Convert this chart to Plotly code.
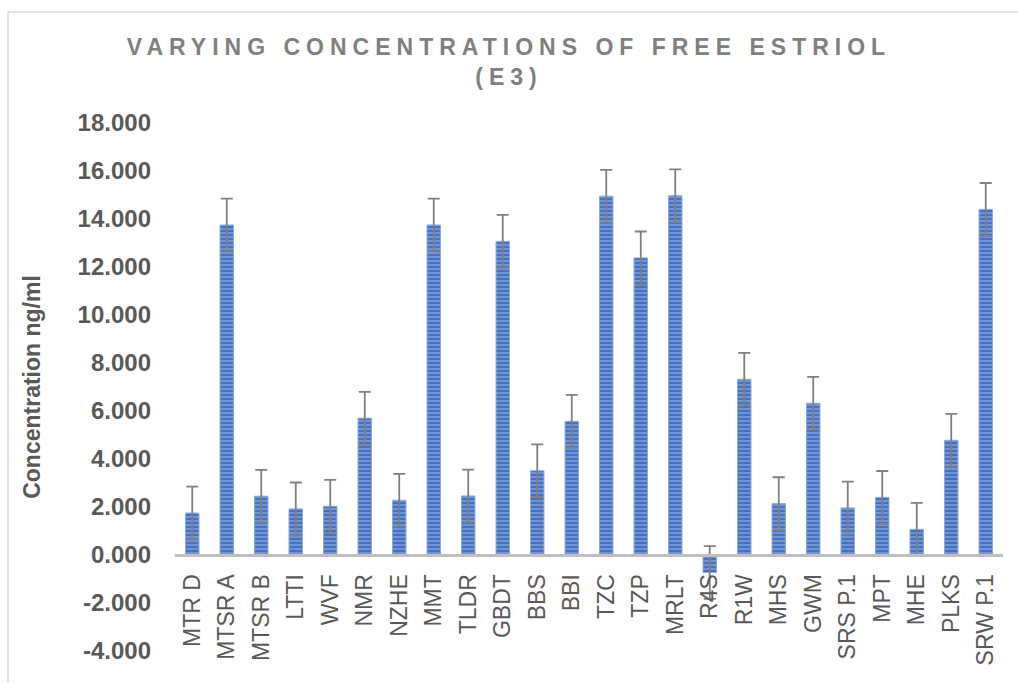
import plotly.graph_objects as go

# sample codes and free estriol concentration (ng/ml)
samples = ["MTR D", "MTSR A", "MTSR B", "LTTI", "WVF", "NMR", "NZHE", "MMT",
           "TLDR", "GBDT", "BBS", "BBI", "TZC", "TZP", "MRLT", "R4S", "R1W",
           "MHS", "GWM", "SRS P.1", "MPT", "MHE", "PLKS", "SRW P.1"]
concentration = [1.75, 13.75, 2.45, 1.92, 2.03, 5.70, 2.28, 13.75,
                 2.46, 13.07, 3.51, 5.57, 14.95, 12.38, 14.97, -0.73, 7.32,
                 2.14, 6.32, 1.96, 2.40, 1.07, 4.78, 14.40]
error = [1.1] * len(samples)

y_ticks = [-4, -2, 0, 2, 4, 6, 8, 10, 12, 14, 16, 18]
y_min, y_max = -4, 18

fig = go.Figure()
fig.add_trace(go.Bar(
    x=samples,
    y=concentration,
    marker=dict(color="#4472C4",
                line=dict(color="#8EA9DB", width=1),
                pattern=dict(shape="-", fgcolor="#A9BFE8", bgcolor="#4472C4",
                             size=4, solidity=0.45)),
    error_y=dict(type="data", array=error, color="#808080", thickness=1.8, width=6),
))

# position of the category axis at y = 0
zero_pos = (0 - y_min) / (y_max - y_min)

fig.update_layout(
    width=1018, height=683,
    paper_bgcolor="white", plot_bgcolor="white",
    margin=dict(l=175, r=15, t=123, b=32),
    bargap=0.61,
    showlegend=False,
    font=dict(family="Liberation Sans, Arial, sans-serif", color="#595959"),
    title=dict(text="VARYING CONCENTRATIONS OF FREE ESTRIOL<br>(E3)",
               x=0.5, xref="container", xanchor="center",
               y=1 - 55 / 683, yref="container", yanchor="top",
               font=dict(size=23, color="#808080", weight="bold")),
    xaxis=dict(type="category", anchor="free", position=zero_pos,
               automargin=False,
               showline=True, linecolor="#BFBFBF", linewidth=3,
               showgrid=False, ticks="", tickangle=-90,
               ticklabelstandoff=8,
               tickfont=dict(size=23, color="#595959")),
    yaxis=dict(range=[y_min, y_max], showgrid=False, zeroline=False,
               automargin=False,
               showline=False, ticks="",
               tickvals=y_ticks, ticktext=[f"{v:.3f}" for v in y_ticks],
               ticklabelstandoff=23,
               tickfont=dict(size=24, color="#595959", weight="bold"),
               title=dict(text="Concentration ng/ml", standoff=30,
                          font=dict(size=23, color="#595959", weight="bold"))),
)

# light border round the chart area
fig.add_shape(type="rect", xref="paper", yref="paper",
              x0=(8 - 175) / 828, x1=1.2, y0=-0.2, y1=(651 - 12) / 528,
              line=dict(color="#D9D9D9", width=1.5), fillcolor="rgba(0,0,0,0)",
              layer="below")

fig.write_html("out.html", config={"displayModeBar": False},
               post_script="document.body.style.margin='0';"
                           "var t=document.querySelector('.gtitle');"
                           "if(t){t.style.letterSpacing='6px';}")
